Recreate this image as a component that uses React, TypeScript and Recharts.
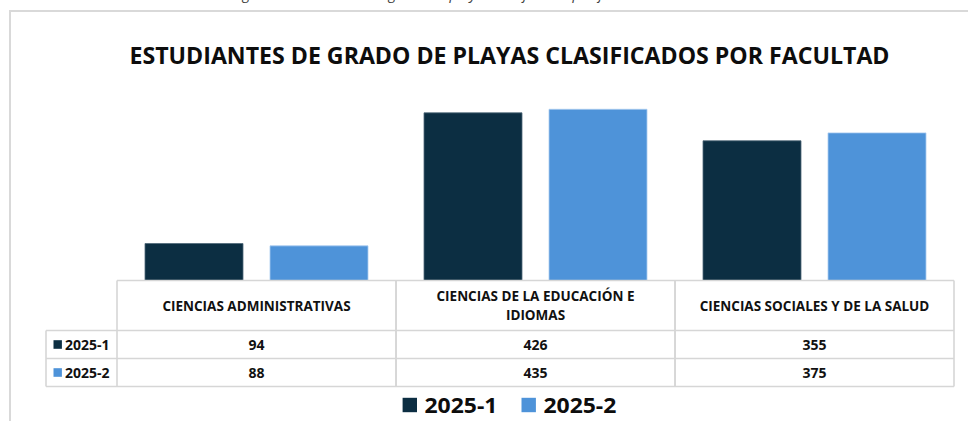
import React from 'react';
import { BarChart, Bar, XAxis, YAxis, Customized } from 'recharts';

// ---------- data ----------
const categories = [
  'CIENCIAS ADMINISTRATIVAS',
  'CIENCIAS DE LA EDUCACIÓN E IDIOMAS',
  'CIENCIAS SOCIALES Y DE LA SALUD',
];
const seriesNames = ['2025-1', '2025-2'];
const values2025_1 = [94, 426, 355];
const values2025_2 = [88, 435, 375];
const yDomain = [0, 500];
const chartTitle = 'ESTUDIANTES DE GRADO DE PLAYAS CLASIFICADOS POR FACULTAD';
const captionText = 'Figura 3. Estudiantes de grado de playas clasificados por facultad';

// ---------- styles ----------
const COLORS = ['#0C2E42', '#4E93D9'];
const STROKES = ['#4F6879', '#A9CCF0'];
const FONT = "'Open Sans', 'Noto Sans', sans-serif";
const BORDER = '#D6D6D6';
const W = 968;
const H = 421;
const CENTER_X = 509.5;
const HEADER_H = 50;
const ROW_H = 28;
const LABEL_COL_W = 71;

const keys = ['s1', 's2'];
const seriesValues = [values2025_1, values2025_2];
const data = categories.map((c, i) => {
  const row: any = { category: c };
  keys.forEach((k, j) => (row[k] = seriesValues[j][i]));
  return row;
});

const wrapText = (s: string, maxChars: number) => {
  const words = s.split(' ');
  const lines: string[] = [];
  let cur = '';
  words.forEach((w) => {
    const next = cur ? cur + ' ' + w : w;
    if (next.length > maxChars && cur) {
      lines.push(cur);
      cur = w;
    } else cur = next;
  });
  if (cur) lines.push(cur);
  return lines;
};

const TableTick = (props: any) => {
  const { x, y, payload, index } = props;
  const half = payload && payload.offset ? payload.offset : 139.5;
  const left = x - half;
  const right = x + half;
  const bottom = y + HEADER_H + 2 * ROW_H;
  const lines = wrapText(String(payload.value), 31);
  const lineH = 19.7;
  const headerMid = y + HEADER_H / 2;
  const firstBase = headerMid - ((lines.length - 1) * lineH) / 2 + 5;
  const lineStyle = { stroke: BORDER, strokeWidth: 1.6 };
  const ci = categories.indexOf(payload.value);
  return (
    <g>
      <line x1={left} x2={right} y1={y} y2={y} {...lineStyle} />
      <line x1={left} x2={left} y1={y} y2={bottom} {...lineStyle} />
      <line x1={right} x2={right} y1={y} y2={bottom} {...lineStyle} />
      {[1, 2, 3].map((r) => {
        const yy = y + HEADER_H + (r - 1) * ROW_H;
        return (
          <line
            key={r}
            x1={index === 0 ? left - LABEL_COL_W : left}
            x2={right}
            y1={yy}
            y2={yy}
            {...lineStyle}
          />
        );
      })}
      {lines.map((ln, i) => (
        <text
          key={i}
          x={x}
          y={firstBase + i * lineH}
          textAnchor="middle"
          fontFamily={FONT}
          fontWeight={700}
          fontSize={13.5}
          fill="#111"
        >
          {ln}
        </text>
      ))}
      {seriesValues.map((vals, r) => (
        <text
          key={'v' + r}
          x={x}
          y={y + HEADER_H + r * ROW_H + ROW_H / 2 + 5.5}
          textAnchor="middle"
          fontFamily={FONT}
          fontWeight={700}
          fontSize={14}
          fill="#111"
        >
          {vals[ci]}
        </text>
      ))}
      {index === 0 && (
        <g>
          <line
            x1={left - LABEL_COL_W}
            x2={left - LABEL_COL_W}
            y1={y + HEADER_H}
            y2={bottom}
            {...lineStyle}
          />
          {seriesNames.map((nm, r) => {
            const mid = y + HEADER_H + r * ROW_H + ROW_H / 2;
            return (
              <g key={nm}>
                <rect x={left - LABEL_COL_W + 7.5} y={mid - 4.3} width={8.4} height={8.6} fill={COLORS[r]} />
                <text
                  x={left - LABEL_COL_W + 19}
                  y={mid + 5.5}
                  fontFamily={FONT}
                  fontWeight={700}
                  fontSize={14}
                  fill="#111"
                >
                  {nm}
                </text>
              </g>
            );
          })}
        </g>
      )}
    </g>
  );
};

const Decorations = () => {
  const sq = 14.4;
  const txtW = 73;
  const itemW = sq + 7.5 + txtW;
  const gap = 24;
  const total = seriesNames.length * itemW + (seriesNames.length - 1) * gap;
  const startX = CENTER_X - total / 2;
  return (
    <g>
      <text
        x={232}
        y={-1}
        fontFamily={FONT}
        fontStyle="italic"
        fontSize={14.5}
        fill="#404040"
      >
        {captionText}
      </text>
      <rect x={10} y={11} width={1100} height={600} fill="none" stroke="#D9D9D9" strokeWidth={2} />
      <text
        x={CENTER_X}
        y={64}
        textAnchor="middle"
        fontFamily={FONT}
        fontWeight={700}
        fontSize={24}
        fill="#0D0D0D"
        textLength={760}
        lengthAdjust="spacingAndGlyphs"
      >
        {chartTitle}
      </text>
      {seriesNames.map((nm, i) => {
        const x0 = startX + i * (itemW + gap);
        return (
          <g key={nm}>
            <rect x={x0} y={397.8} width={sq} height={sq} fill={COLORS[i]} />
            <text
              x={x0 + sq + 7.5}
              y={412.6}
              fontFamily={FONT}
              fontWeight={700}
              fontSize={22}
              fill="#0D0D0D"
              textLength={txtW}
              lengthAdjust="spacingAndGlyphs"
            >
              {nm}
            </text>
          </g>
        );
      })}
    </g>
  );
};

export default function App() {
  return (
    <div style={{ position: 'absolute', left: 0, top: 0, width: W, height: H, background: '#fff' }}>
      <BarChart
        width={W}
        height={H}
        data={data}
        margin={{ top: 83.7, right: 14, bottom: 33.5, left: 117 }}
        barCategoryGap={28}
        barGap={27}
      >
        <Customized component={Decorations} />
        <XAxis
          dataKey="category"
          type="category"
          height={107}
          interval={0}
          tickLine={false}
          axisLine={false}
          tickSize={0}
          tickMargin={0}
          tick={<TableTick />}
        />
        <YAxis hide domain={yDomain} type="number" />
        {keys.map((k, i) => (
          <Bar
            key={k}
            dataKey={k}
            name={seriesNames[i]}
            fill={COLORS[i]}
            stroke={STROKES[i]}
            strokeWidth={0.8}
            isAnimationActive={false}
          />
        ))}
      </BarChart>
    </div>
  );
}
